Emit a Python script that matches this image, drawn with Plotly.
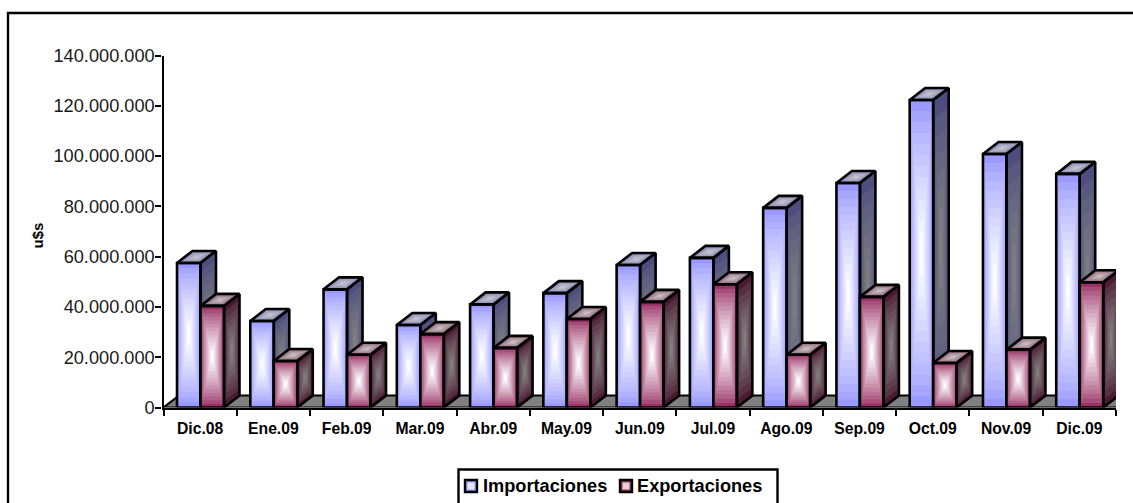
import plotly.graph_objects as go

categories = ["Dic.08", "Ene.09", "Feb.09", "Mar.09", "Abr.09", "May.09", "Jun.09",
              "Jul.09", "Ago.09", "Sep.09", "Oct.09", "Nov.09", "Dic.09"]
importaciones = [57.5e6, 34.4e6, 47.0e6, 32.8e6, 41.0e6, 45.5e6, 56.7e6,
                 59.5e6, 79.4e6, 89.3e6, 122.3e6, 100.8e6, 92.9e6]
exportaciones = [40.4e6, 18.5e6, 21.0e6, 29.2e6, 23.7e6, 35.2e6, 42.0e6,
                 49.0e6, 21.0e6, 44.0e6, 17.7e6, 23.0e6, 49.8e6]
y_tick_values = [0, 20e6, 40e6, 60e6, 80e6, 100e6, 120e6, 140e6]
y_tick_labels = ["0", "20.000.000", "40.000.000", "60.000.000", "80.000.000",
                 "100.000.000", "120.000.000", "140.000.000"]

W, H = 1133, 503
X0, X1, Y0, Y1 = 163.5, 1116.0, 407.5, 55.5
PX_X = (X1 - X0) / len(categories)
PX_Y = (Y0 - Y1) / 140e6
DX, DY = 15.5 / PX_X, 12 / PX_Y
BAR_W = 23.5 / PX_X
OFFSET = 13.5 / PX_X
FONT = "Liberation Sans, Arial, sans-serif"


def hexrgb(h):
    return tuple(int(h[i:i + 2], 16) for i in (1, 3, 5))


def lerp(a, b, t):
    a, b = hexrgb(a), hexrgb(b)
    return "rgb(%d,%d,%d)" % tuple(round(a[i] + (b[i] - a[i]) * t) for i in range(3))


def poly_trace(polys, **kw):
    xs, ys = [], []
    for p in polys:
        xs += [q[0] for q in p] + [p[0][0], None]
        ys += [q[1] for q in p] + [p[0][1], None]
    return go.Scatter(x=xs, y=ys, mode="lines", cliponaxis=False, showlegend=False,
                      hoverinfo="skip", **kw)


def shrink(p, s):
    cx = sum(q[0] for q in p) / len(p)
    cy = sum(q[1] for q in p) / len(p)
    return [(cx + (q[0] - cx) * s, cy + (q[1] - cy) * s) for q in p]


def graded(polys, edge, centre, levels):
    out = []
    for i in range(levels):
        t = i / levels
        out.append(poly_trace([shrink(p, 1 - t) for p in polys], fill="toself",
                              fillcolor=lerp(edge, centre, min(1, (t / (1 - 1 / levels)) ** 0.8)),
                              line=dict(width=0)))
    return out


def series(values, slot, front, side, top):
    fronts, sides, tops = [], [], []
    for i, v in enumerate(values):
        l = i + OFFSET + slot * BAR_W
        r = l + BAR_W
        fronts.append([(l, 0), (r, 0), (r, v), (l, v)])
        sides.append([(r, 0), (r + DX, DY), (r + DX, v + DY), (r, v)])
        tops.append([(l, v), (r, v), (r + DX, v + DY), (l + DX, v + DY)])
    t = []
    t += graded(sides, side[0], side[1], 8)
    t += graded(tops, top[0], top[1], 6)
    t += graded(fronts, front[0], front[1], 14)
    t.append(poly_trace(sides + tops + fronts, line=dict(color="black", width=2.6)))
    return t


n = len(categories)
fig = go.Figure()
floor = [[(0, 0), (n, 0), (n + DX, DY), (DX, DY)]]
fig.add_trace(poly_trace(floor, fill="toself", fillcolor="#808080",
                         line=dict(color="black", width=2.2)))
fig.add_traces(series(importaciones, 0, ("#9999ff", "#ffffff"), ("#4d4d80", "#808080"),
                      ("#7f7fb8", "#c4c4c8")))
fig.add_traces(series(exportaciones, 1, ("#993366", "#ffffff"), ("#4d1a33", "#808080"),
                      ("#8c5a72", "#c4c0c0")))

shapes = [
    dict(type="rect", xref="paper", yref="paper", x0=8 / W, x1=1.02, y0=-0.02, y1=1 - 13 / H,
         line=dict(color="black", width=2.4), layer="below"),
    dict(type="rect", xref="paper", yref="paper", x0=458.5 / W, x1=777.5 / W,
         y0=-0.01, y1=1 - 469.5 / H, line=dict(color="black", width=2.4), fillcolor="white"),
]
annotations = [
    dict(text="<b>u$s</b>", xref="paper", yref="paper", x=36.5 / W, y=1 - 236 / H, showarrow=False,
         xanchor="center", yanchor="middle", textangle=-90,
         font=dict(family=FONT, size=15, color="black")),
]
for name, ix, tx, edge, mid in [("Importaciones", 465, 481, "#9999ff", "#e6e6ff"),
                                ("Exportaciones", 620, 635, "#993366", "#e6d0da")]:
    shapes.append(dict(type="rect", xref="paper", yref="paper", x0=ix / W, x1=(ix + 12) / W,
                       y0=1 - 492 / H, y1=1 - 480 / H, fillcolor=edge,
                       line=dict(color="black", width=2.4)))
    shapes.append(dict(type="rect", xref="paper", yref="paper", x0=(ix + 2.5) / W, x1=(ix + 9.5) / W,
                       y0=1 - 489.5 / H, y1=1 - 482.5 / H, fillcolor=mid, line=dict(width=0)))
    annotations.append(dict(text="<b>%s</b>" % name, xref="paper", yref="paper", x=tx / W,
                            y=1 - 485.5 / H, xanchor="left", yanchor="middle", showarrow=False,
                            font=dict(family=FONT, size=18.2, color="black")))

fig.update_layout(
    width=W, height=H, autosize=False, showlegend=False,
    paper_bgcolor="white", plot_bgcolor="white",
    margin=dict(l=0, r=0, t=0, b=0),
    shapes=shapes, annotations=annotations,
    xaxis=dict(domain=[X0 / W, X1 / W], range=[0, n], tickmode="array", automargin=False,
               tickvals=[i + 0.5 for i in range(n)], ticktext=categories, ticklen=0,
               ticklabelstandoff=5,
               tickfont=dict(family=FONT, size=15.7, color="black", weight="bold"),
               showgrid=False, zeroline=False, showline=True, linecolor="black", linewidth=2.4,
               minor=dict(ticks="outside", tickvals=list(range(n + 1)), ticklen=6,
                          tickcolor="black", tickwidth=2.2, showgrid=False)),
    yaxis=dict(domain=[1 - Y0 / H, 1 - Y1 / H], range=[0, 140e6], tickmode="array", automargin=False,
               tickvals=y_tick_values, ticktext=y_tick_labels, ticks="outside", ticklen=6,
               tickwidth=2.2, tickcolor="black", ticklabelstandoff=-3,
               tickfont=dict(family=FONT, size=18.2, color="#1a1a1a"),
               showgrid=False, zeroline=False, showline=True, linecolor="black", linewidth=2.4),
)
fig.write_html("out.html", config=dict(displayModeBar=False),
               post_script="document.body.style.margin='0';document.body.style.overflow='hidden';")
